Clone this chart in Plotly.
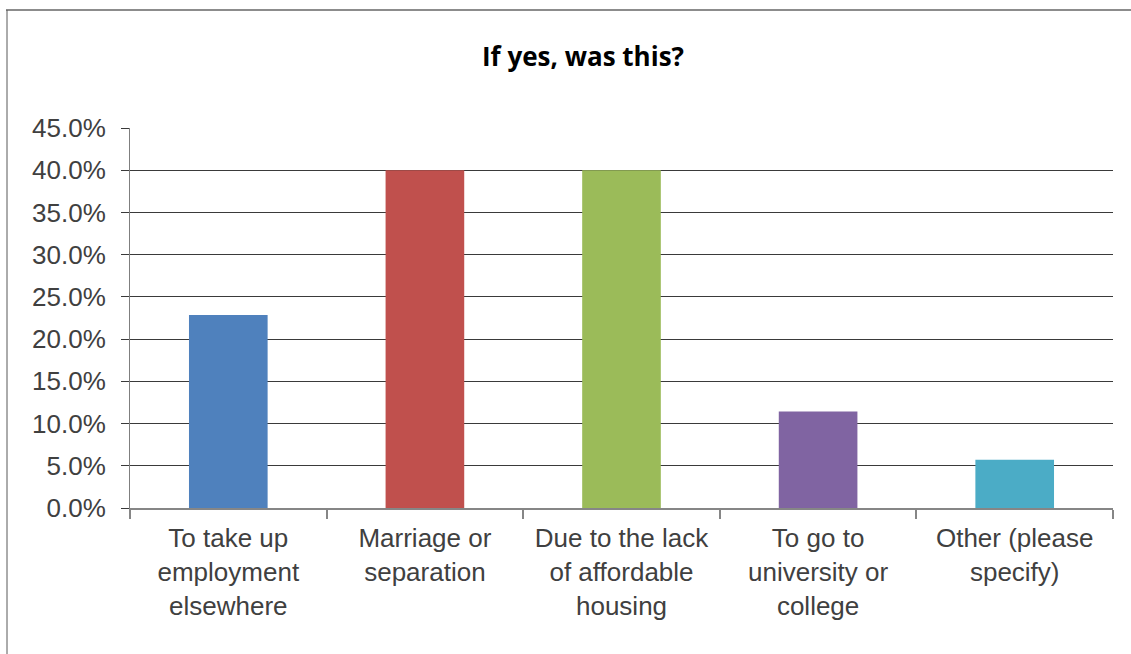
import plotly.graph_objects as go

categories = ["To take up<br>employment<br>elsewhere", "Marriage or<br>separation",
              "Due to the lack<br>of affordable<br>housing", "To go to<br>university or<br>college",
              "Other (please<br>specify)"]
values = [0.2286, 0.40, 0.40, 0.1143, 0.0571]
colors = ["#4F81BD", "#C0504D", "#9BBB59", "#8064A2", "#4BACC6"]
title_text = "If yes, was this?"

W, H = 1131, 654
L, R, T, B = 130, 18, 128, 146
pw, ph = W - L - R, H - T - B

def px_x(x):
    return (x - L) / pw

def px_y(y):
    return (H - B - y) / ph

fig = go.Figure(go.Bar(x=categories, y=values, marker=dict(color=colors, line=dict(width=0)), width=0.4))

fig.update_layout(
    width=W, height=H,
    margin=dict(l=L, r=R, t=T, b=B, autoexpand=False),
    paper_bgcolor="white", plot_bgcolor="white",
    showlegend=False,
    font=dict(family="Liberation Sans, Arial", color="#404040", size=26),
    title=dict(text="<b>" + title_text + "</b>", x=583 / W, xanchor="center", y=1 - 57 / H, yanchor="middle",
               font=dict(family="Open Sans, Lato", size=26, color="#000000")),
    shapes=[
        dict(type="line", xref="paper", yref="paper", x0=px_x(6), x1=px_x(W + 5), y0=px_y(10), y1=px_y(10),
             line=dict(color="#8c8c8c", width=2)),
        dict(type="line", xref="paper", yref="paper", x0=px_x(7), x1=px_x(7), y0=px_y(10), y1=px_y(H + 5),
             line=dict(color="#595959", width=1)),
    ],
)

fig.update_yaxes(range=[0, 0.4502], dtick=0.05, tick0=0, tickformat=".1%", showgrid=True, gridcolor="#3a3a3a",
                 gridwidth=1, showline=True, linecolor="#7f7f7f", linewidth=1, ticks="outside", ticklen=8,
                 tickcolor="#3a3a3a", zeroline=False, ticklabelstandoff=10,
                 tickfont=dict(size=26, color="#404040"))
fig.update_xaxes(showline=True, linecolor="#868686", linewidth=2, ticks="outside", tickson="boundaries", ticklen=9,
                 tickcolor="#868686", tickwidth=2, showgrid=False, ticklabelstandoff=6,
                 tickfont=dict(size=26, color="#404040"))

fig.write_html("out.html", config={"displayModeBar": False},
               post_script="document.body.style.margin='0';document.body.style.overflow='hidden';")
